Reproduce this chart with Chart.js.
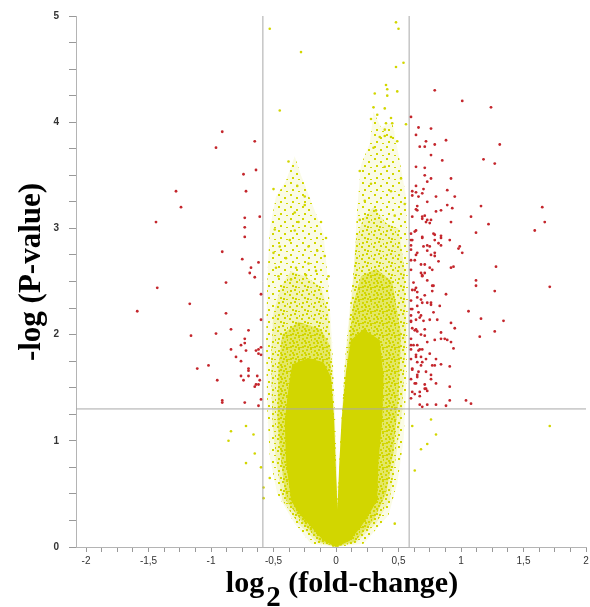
<!DOCTYPE html>
<html>
<head>
<meta charset="utf-8">
<script src="https://cdn.jsdelivr.net/npm/chart.js@4/dist/chart.umd.min.js"></script>
<style>
html, body { margin: 0; padding: 0; background: #fff; }
</style>
</head>
<body>
<canvas id="chart" width="590" height="607"></canvas>
<script>
// cut-offs: log2(1.5) fold change and p = 0.05
var foldCut = 0.585;
var pCut = 1.3;

var xTicks = [-2, -1.5, -1, -0.5, 0, 0.5, 1, 1.5, 2];
var yTicks = [0, 1, 2, 3, 4, 5];

// red: significant, down-regulated (left)
var downPoints = [
  [-0.91,3.91],[-0.65,3.82],[-0.96,3.76],[-0.64,3.55],[-0.74,3.51],[-1.28,3.35],[-0.72,3.35],
  [-1.24,3.20],[-0.61,3.11],[-0.73,3.10],[-1.44,3.06],[-0.73,3.01],[-0.73,2.92],[-0.91,2.78],
  [-0.75,2.71],[-0.62,2.68],[-0.68,2.63],[-0.69,2.58],[-0.65,2.54],[-0.88,2.49],[-0.60,2.38],
  [-1.43,2.44],[-1.17,2.29],[-0.88,2.20],[-1.59,2.22],[-0.60,2.14],[-0.84,2.05],[-0.70,2.04],
  [-0.96,2.01],[-1.16,1.99],[-0.73,1.96],[-0.76,1.90],[-0.73,1.92],[-0.60,1.88],[-0.62,1.86],
  [-0.84,1.86],[-0.72,1.85],[-0.64,1.85],[-0.62,1.82],[-0.60,1.81],[-0.80,1.79],[-0.76,1.75],
  [-1.02,1.71],[-1.11,1.68],[-0.70,1.68],[-0.70,1.66],[-0.76,1.61],[-0.70,1.61],[-0.63,1.61],
  [-0.95,1.57],[-0.74,1.57],[-0.61,1.57],[-0.64,1.53],[-0.65,1.51],[-0.62,1.53],[-0.60,1.39],
  [-0.91,1.38],[-0.91,1.36],[-0.73,1.36],[-0.62,1.33]
];

// red: significant, up-regulated (right)
var upPoints = [
  [0.79,4.30],[1.01,4.20],[1.24,4.14],[0.60,4.05],[0.66,3.95],[0.76,3.94],[0.64,3.88],[0.88,3.83],
  [1.31,3.79],[0.72,3.82],[0.79,3.79],[0.67,3.77],[0.71,3.77],[0.76,3.69],[0.85,3.64],[1.18,3.65],
  [1.27,3.61],[0.64,3.58],[0.71,3.57],[0.71,3.50],[0.76,3.47],[0.92,3.47],[0.73,3.44],[0.64,3.40],
  [0.70,3.37],[0.89,3.36],[0.61,3.35],[0.64,3.34],[0.66,3.30],[0.61,3.31],[0.69,3.33],[0.80,3.30],
  [0.95,3.30],[0.73,3.25],[0.89,3.22],[0.65,3.21],[0.65,3.17],[0.93,3.19],[1.16,3.21],[1.65,3.20],
  [1.67,3.06],[1.59,2.98],[1.08,3.11],[0.61,3.11],[0.71,3.12],[0.69,3.09],[0.73,3.08],[0.84,3.17],
  [0.80,3.16],[0.76,3.08],[0.75,3.05],[0.92,3.06],[1.22,3.04],[1.12,2.96],[0.64,2.98],[0.60,2.95],
  [0.60,2.89],[0.60,2.84],[0.60,2.80],[0.78,2.95],[0.84,2.93],[0.79,2.89],[0.82,2.86],[0.69,2.92],
  [0.70,2.83],[0.75,2.83],[0.73,2.79],[0.65,2.77],[0.63,2.70],[0.91,2.89],[0.99,2.83],[0.98,2.81],
  [1.01,2.77],[0.84,2.84],[0.76,2.75],[0.79,2.74],[0.82,2.69],[0.60,2.70],[0.60,2.61],[0.68,2.66],
  [0.69,2.56],[0.69,2.55],[0.71,2.58],[0.75,2.63],[0.77,2.61],[0.92,2.63],[0.94,2.64],[1.28,2.64],
  [0.62,2.49],[0.64,2.44],[0.61,2.42],[0.65,2.40],[0.73,2.51],[0.78,2.46],[0.77,2.41],[1.12,2.51],
  [1.12,2.46],[1.27,2.41],[1.71,2.45],[0.88,2.38],[0.71,2.37],[0.68,2.33],[0.73,2.30],[0.60,2.32],
  [0.60,2.24],[0.60,2.18],[0.60,2.13],[0.65,2.27],[0.66,2.21],[0.68,2.18],[0.64,2.14],[0.76,2.28],
  [0.78,2.21],[0.75,2.14],[0.70,2.13],[0.83,2.27],[1.06,2.22],[1.16,2.15],[1.34,2.13],[0.81,2.14],
  [0.92,2.11],[0.95,2.06],[0.61,2.06],[0.63,2.04],[0.65,2.03],[0.71,2.05],[0.68,2.00],[0.84,2.02],
  [0.84,1.96],[0.89,1.95],[0.87,1.96],[0.92,1.93],[1.27,2.03],[1.15,1.98],[0.79,1.95],[0.73,1.93],
  [0.60,1.96],[0.60,1.90],[0.60,1.86],[0.65,1.90],[0.66,1.85],[0.69,1.86],[0.94,1.87],[0.64,1.81],
  [0.68,1.79],[0.60,1.77],[0.65,1.74],[0.69,1.74],[0.75,1.82],[0.80,1.77],[0.77,1.71],[0.84,1.72],
  [0.91,1.70],[0.61,1.68],[0.66,1.65],[0.72,1.65],[0.65,1.60],[0.60,1.58],[0.64,1.54],[0.71,1.53],
  [0.76,1.62],[0.76,1.58],[0.80,1.54],[0.72,1.49],[0.73,1.47],[0.67,1.46],[0.63,1.44],[0.60,1.40],
  [0.91,1.51],[0.67,1.34],[0.69,1.32],[0.73,1.34],[0.80,1.34],[0.88,1.33],[0.91,1.38],[1.04,1.38],
  [1.08,1.35],[0.64,3.18],[0.69,3.11],[0.72,3.06],[0.63,2.97],[0.79,2.94],[0.69,2.91],[0.84,2.91],
  [0.61,2.89],[0.73,2.84],[0.79,2.77],[0.64,2.75],[0.71,2.66],[0.68,2.58],[0.77,2.46],[0.63,2.42],
  [0.65,2.35],[0.69,2.30],[0.76,2.30],[0.61,2.24],[0.67,2.16],[0.60,2.12],[0.64,2.05],[0.71,1.99],
  [0.62,1.90],[0.67,1.86],[0.64,1.79],[0.72,1.77],[0.68,1.71],[0.61,1.67],[0.79,1.71],[0.65,1.62],
  [0.63,1.54],[0.71,1.49],[0.61,1.46],[0.67,1.42]
];

// yellow: isolated non-significant points outside the dense cloud
var otherPoints = [
  [-0.53,4.88],[-0.28,4.66],[-0.45,4.11],[0.48,4.94],[0.50,4.88],[0.54,4.56],[0.48,4.52],[0.40,4.35],
  [0.41,4.31],[0.31,4.27],[0.41,4.25],[0.49,4.29],[0.30,4.14],[0.39,4.13],[0.33,4.07],[0.28,4.03],
  [0.44,4.04],[0.40,3.99],[0.45,3.99],[0.56,3.98],[0.39,3.93],[0.35,3.86],[0.39,3.87],[0.44,3.86],
  [0.49,3.82],[-0.38,3.63],[-0.50,3.37],[-0.31,3.40],[-0.25,3.30],[-0.25,3.22],[-0.33,3.15],
  [-0.30,3.06],[-0.12,3.06],[-0.49,2.99],[-0.33,2.98],[-0.08,2.91],[-0.37,2.89],[-0.45,2.83],
  [-0.22,2.83],[-0.50,2.77],[-0.15,2.79],[-0.40,2.72],[-0.09,2.74],[-0.22,2.67],[-0.48,2.63],
  [-0.32,2.63],[-0.16,2.60],[-0.46,2.55],[-0.24,2.56],[-0.06,2.55],[-0.36,2.52],[0.30,3.76],
  [0.19,3.54],[0.39,3.58],[0.52,3.47],[0.28,3.42],[0.44,3.35],[0.23,3.26],[0.55,3.23],[0.32,3.17],
  [0.47,3.12],[0.19,3.08],[0.76,1.20],[0.80,1.06],[0.73,0.97],[0.68,0.92],[0.63,0.72],[0.61,1.14],
  [1.71,1.14],[0.47,0.22],[-0.84,1.09],[-0.86,1.00],[-0.72,1.14],[-0.66,1.06],[-0.65,0.88],
  [-0.72,0.79],[-0.60,0.75],[-0.58,0.46],[-0.58,0.56],[-0.53,0.65]
];

// outlines of the dense cloud: haze, medium, dense, solid core
var outerCloud = [
  [0,0],[-0.20,0.03],[-0.33,0.22],[-0.47,0.50],[-0.53,0.85],[-0.55,1.3],[-0.56,1.9],[-0.55,2.5],
  [-0.53,3.0],[-0.48,3.3],[-0.40,3.45],[-0.33,3.68],[-0.28,3.5],[-0.18,3.2],[-0.10,2.95],
  [-0.06,2.45],[-0.03,1.9],[0.0,1.0],[0.015,0.45],[0.035,1.0],[0.08,1.9],[0.14,2.6],[0.17,3.2],
  [0.20,3.6],[0.27,3.8],[0.30,4.1],[0.36,3.95],[0.45,4.0],[0.50,3.7],[0.56,3.3],[0.575,2.8],
  [0.575,2.3],[0.565,1.6],[0.54,1.0],[0.49,0.6],[0.42,0.3],[0.22,0.03]
];
var midCloud = [
  [0,0],[-0.15,0.04],[-0.30,0.22],[-0.43,0.44],[-0.48,0.81],[-0.51,1.2],[-0.52,1.8],[-0.50,2.2],
  [-0.44,2.45],[-0.36,2.6],[-0.25,2.55],[-0.12,2.45],[-0.06,2.2],[-0.03,1.7],[-0.005,1.0],
  [0.015,0.4],[0.035,1.0],[0.07,1.7],[0.13,2.4],[0.16,2.9],[0.22,3.1],[0.30,3.2],[0.40,3.05],
  [0.50,3.0],[0.55,2.6],[0.56,2.0],[0.53,1.3],[0.48,0.85],[0.43,0.44],[0.32,0.22],[0.16,0.04]
];
var denseCloud = [
  [0,0],[-0.13,0.05],[-0.26,0.22],[-0.40,0.44],[-0.44,0.81],[-0.47,1.2],[-0.46,1.7],[-0.43,2.0],
  [-0.30,2.12],[-0.12,2.05],[-0.05,1.9],[-0.02,1.2],[-0.003,0.7],[0.013,0.38],[0.03,0.75],
  [0.06,1.3],[0.10,1.9],[0.14,2.3],[0.20,2.55],[0.32,2.62],[0.45,2.5],[0.52,2.0],[0.50,1.4],
  [0.46,0.9],[0.40,0.5],[0.30,0.25],[0.15,0.05]
];
var coreCloud = [
  [0,0],[-0.10,0.06],[-0.20,0.19],[-0.30,0.32],[-0.36,0.44],[-0.40,0.81],[-0.41,1.18],[-0.38,1.5],
  [-0.35,1.72],[-0.22,1.78],[-0.10,1.74],[-0.04,1.6],[-0.015,1.2],[-0.002,0.75],[0.012,0.35],
  [0.025,0.75],[0.045,1.2],[0.08,1.65],[0.12,1.95],[0.22,2.05],[0.35,1.95],[0.38,1.6],[0.37,1.2],
  [0.34,0.81],[0.33,0.44],[0.26,0.30],[0.20,0.19],[0.11,0.06]
];

var xTitle = ['log', '2', ' (fold-change)'];
var yTitle = '-log (P-value)';

var yellow = 'rgb(210,214,0)';
var red = '#c4262c';
var refGrey = '#a8a8a8';

var ctx = document.getElementById('chart').getContext('2d');

// speckle textures for the less dense parts of the cloud (12px tiles)
var tileDots = [
  [[2,2],[8,5],[4,9],[10,11]],
  [[6,1],[1,6],[11,3],[7,10]],
  [[4,4],[9,8],[0,11],[5,6],[10,0],[2,10]]
];
function speckle(levels, haze) {
  var c = document.createElement('canvas');
  c.width = 12; c.height = 12;
  var g = c.getContext('2d');
  g.fillStyle = 'rgba(210,214,0,' + haze + ')';
  g.fillRect(0, 0, 12, 12);
  g.fillStyle = yellow;
  for (var i = 0; i < levels; i++) {
    tileDots[i].forEach(function(d) { g.fillRect(d[0], d[1], 2, 2); });
  }
  return ctx.createPattern(c, 'repeat');
}

function toXY(arr) {
  return arr.map(function(p) { return {x: p[0], y: p[1]}; });
}

function cloudSet(arr, fillStyle, order) {
  return {
    data: toXY(arr), showLine: true, fill: 'shape', backgroundColor: fillStyle,
    borderWidth: 0, pointRadius: 0, order: order
  };
}

function refLine(pts) {
  return {
    data: toXY(pts), showLine: true, fill: false, borderColor: refGrey,
    borderWidth: 1, pointRadius: 0, order: 1
  };
}

var isTick = function(list, v) {
  return list.some(function(t) { return Math.abs(t - v) < 1e-6; });
};

var axisTitles = {
  id: 'axisTitles',
  afterDraw: function(chart) {
    var c = chart.ctx;
    c.save();
    c.fillStyle = '#000';
    c.textBaseline = 'alphabetic';
    c.textAlign = 'left';
    c.font = 'bold 30px "Liberation Serif"';
    var w0 = c.measureText(xTitle[0]).width;
    var w2 = c.measureText(xTitle[2]).width;
    c.font = 'bold 29px "Liberation Serif"';
    var w1 = c.measureText(xTitle[1]).width;
    var x = 342 - (w0 + w1 + w2 + 2) / 2;
    c.font = 'bold 30px "Liberation Serif"';
    c.fillText(xTitle[0], x, 592);
    c.font = 'bold 29px "Liberation Serif"';
    c.fillText(xTitle[1], x + w0 + 2, 606);
    c.font = 'bold 30px "Liberation Serif"';
    c.fillText(xTitle[2], x + w0 + w1 + 2, 592);

    c.translate(40, 272);
    c.rotate(-Math.PI / 2);
    c.textAlign = 'center';
    c.font = 'bold 31px "Liberation Serif"';
    c.fillText(yTitle, 0, 0);
    c.restore();
  }
};

new Chart(ctx, {
  type: 'scatter',
  data: {
    datasets: [
      cloudSet(outerCloud, speckle(1, 0.1), 8),
      cloudSet(midCloud, speckle(2, 0.2), 7),
      cloudSet(denseCloud, speckle(3, 0.45), 6),
      cloudSet(coreCloud, yellow, 5),
      {data: toXY(otherPoints), backgroundColor: yellow, borderWidth: 0, pointRadius: 1.3, order: 3},
      refLine([[-foldCut, 0], [-foldCut, 5]]),
      refLine([[foldCut, 0], [foldCut, 5]]),
      refLine([[-2.08, pCut], [2, pCut]]),
      {data: toXY(downPoints), backgroundColor: red, borderWidth: 0, pointRadius: 1.4, order: 0},
      {data: toXY(upPoints), backgroundColor: red, borderWidth: 0, pointRadius: 1.4, order: 0}
    ]
  },
  options: {
    responsive: false,
    animation: false,
    events: [],
    layout: { padding: { top: 10, left: 0, right: 0, bottom: 0 } },
    plugins: { legend: { display: false }, tooltip: { enabled: false } },
    scales: {
      x: {
        type: 'linear', min: -2.08, max: 2,
        grid: { drawOnChartArea: false, drawTicks: true, tickLength: 5, color: '#999' },
        border: { display: true, color: '#b4b4b4' },
        ticks: {
          stepSize: 0.125, includeBounds: false, autoSkip: false, maxRotation: 0,
          padding: 3, color: '#333', font: { family: 'Liberation Sans', size: 10 },
          callback: function(v) { return isTick(xTicks, v) ? String(v).replace('.', ',') : ''; }
        },
        afterFit: function(s) { s.height = 60; s.paddingLeft = 0; s.paddingRight = 0; }
      },
      y: {
        type: 'linear', min: 0, max: 5,
        grid: { drawOnChartArea: false, drawTicks: true, tickLength: 7, color: '#999' },
        border: { display: true, color: '#b4b4b4' },
        ticks: {
          stepSize: 0.25, autoSkip: false, padding: 10, color: '#333',
          font: { family: 'Liberation Sans', size: 10, weight: 'bold' },
          callback: function(v) { return isTick(yTicks, v) ? String(v) : ''; }
        },
        afterFit: function(s) { s.width = 76; }
      }
    }
  },
  plugins: [axisTitles]
});
</script>
</body>
</html>
